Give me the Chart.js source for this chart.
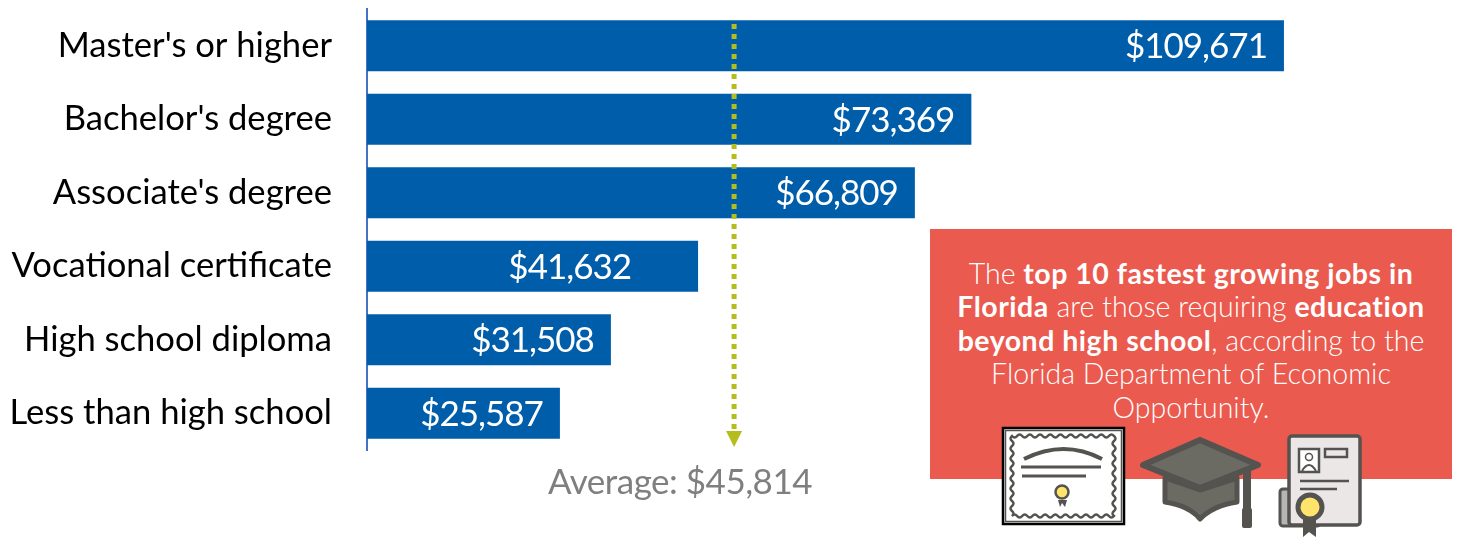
<!DOCTYPE html>
<html>
<head>
<meta charset="utf-8">
<script src="https://cdn.jsdelivr.net/npm/chart.js@4"></script>
<style>
  html, body { margin: 0; padding: 0; background: #fff; overflow: hidden; }
  #wrap { position: relative; width: 1459px; height: 537px; font-family: Lato, sans-serif; }
  #myChart { position: absolute; left: 0; top: 0; }
  #callout { position: absolute; left: 930px; top: 229px; width: 522px; height: 250px; background: #EB5A4E; }
  #calloutText { position: absolute; left: 0; top: 28px; width: 100%; text-align: center; color: #fff; font-size: 28.5px; line-height: 33.4px; font-weight: 300; }
  #calloutText b { font-weight: 700; letter-spacing: 0.5px; }
  #average { position: absolute; left: 480px; top: 458px; width: 400px; text-align: center; color: #7F7F7F; font-size: 35px; line-height: 44px; letter-spacing: -0.5px; }
  #icons { position: absolute; left: 0; top: 0; }
</style>
</head>
<body>
<div id="wrap">
  <canvas id="myChart" width="1459" height="537"></canvas>
  <div id="callout">
    <div id="calloutText">The <b>top 10 fastest growing jobs in<br>Florida</b> are those requiring <b>education<br>beyond high school</b>, according to the<br>Florida Department of Economic<br>Opportunity.</div>
  </div>
  <div id="average">Average: $45,814</div>
  <svg id="icons" width="1459" height="537" viewBox="0 0 1459 537">
    <!-- certificado -->
    <rect x="1003" y="428" width="121" height="96" fill="#fff" stroke="#000" stroke-width="2.5"/>
    <rect x="1005.5" y="430.5" width="116" height="91" fill="none" stroke="#55534F" stroke-width="1.5"/>
    <path id="borde" fill="none" stroke="#55534F" stroke-width="2.5"/>
    <path d="M1024 459 Q1064 439 1102 459" fill="none" stroke="#55534F" stroke-width="4"/>
    <path d="M1021 467 H1101" stroke="#55534F" stroke-width="3"/>
    <path d="M1022 476 H1086" stroke="#55534F" stroke-width="3"/>
    <path d="M1058 500 L1060 507 L1062 503 L1065 507 L1067 500 Z" fill="#55534F"/>
    <circle cx="1062" cy="492" r="6.5" fill="#FFE36B" stroke="#55534F" stroke-width="2.5"/>
    <!-- birrete -->
    <path d="M1165 478 V502 Q1190 506 1200 519 Q1212 506 1237 502 V478 L1200 490 Z" fill="#6B6B63" stroke="#55534F" stroke-width="5" stroke-linejoin="round"/>
    <path d="M1200 440 L1258 465 L1200 488 L1143 465 Z" fill="#6B6B63" stroke="#55534F" stroke-width="6" stroke-linejoin="round"/>
    <path d="M1247 468 V512" stroke="#55534F" stroke-width="8"/>
    <rect x="1242" y="508" width="10" height="20" rx="2" fill="#55534F"/>
    <!-- diploma -->
    <rect x="1280" y="489" width="40" height="37" rx="3" fill="#B5B5B5" stroke="#55534F" stroke-width="3"/>
    <rect x="1289" y="436" width="71" height="89" rx="3" fill="#EAE7E6" stroke="#55534F" stroke-width="3.5"/>
    <rect x="1299" y="449" width="20" height="23" fill="#fff" stroke="#55534F" stroke-width="2.5"/>
    <circle cx="1309" cy="457" r="3.5" fill="none" stroke="#55534F" stroke-width="1.5"/>
    <path d="M1302 471 Q1309 459 1316 471" fill="none" stroke="#55534F" stroke-width="2"/>
    <rect x="1325" y="449" width="22" height="8" fill="none" stroke="#55534F" stroke-width="2.5"/>
    <path d="M1300 481 H1349" stroke="#55534F" stroke-width="2.5"/>
    <path d="M1300 489 H1337" stroke="#55534F" stroke-width="2.5"/>
    <path d="M1303 515 V537 L1309 532 L1316 537 V515 Z" fill="#55534F"/>
    <circle cx="1310" cy="507" r="12" fill="#FFE36B" stroke="#55534F" stroke-width="5"/>
  </svg>
</div>

<script>
const categorias = ["Master's or higher", "Bachelor's degree", "Associate's degree", 'Vocational certificate', 'High school diploma', 'Less than high school']
const salarios = [109671, 73369, 66809, 41632, 31508, 25587]
const promedio = 45814

const idMyChart = document.getElementById('myChart')

// Borde ondulado del certificado
function bordeOndulado (x0, y0, x1, y1, paso, alto) {
  let d = `M${x0} ${y0}`
  const lado = (xa, ya, xb, yb) => {
    const n = Math.round(Math.hypot(xb - xa, yb - ya) / paso)
    const nx = (yb - ya) === 0 ? 0 : alto
    const ny = (yb - ya) === 0 ? alto : 0
    for (let i = 1; i <= n; i++) {
      const s = i % 2 ? 1 : -1
      const mx = xa + (xb - xa) * (i - 0.5) / n + nx * s
      const my = ya + (yb - ya) * (i - 0.5) / n + ny * s
      d += ` Q${mx} ${my} ${xa + (xb - xa) * i / n} ${ya + (yb - ya) * i / n}`
    }
  }
  lado(x0, y0, x1, y0)
  lado(x1, y0, x1, y1)
  lado(x1, y1, x0, y1)
  lado(x0, y1, x0, y0)
  return d + 'Z'
}
document.getElementById('borde').setAttribute('d', bordeOndulado(1012, 436, 1114, 516, 5, 3))

// Etiquetas de dinero dentro de cada barra
const etiquetasPlugin = {
  id: 'etiquetas',
  afterDatasetsDraw (chart) {
    const ctx = chart.ctx
    const meta = chart.getDatasetMeta(0)
    ctx.save()
    ctx.fillStyle = '#fff'
    ctx.font = '35px Lato, sans-serif'
    ctx.letterSpacing = '-1px'
    ctx.textAlign = 'right'
    ctx.textBaseline = 'middle'
    meta.data.forEach((bar, i) => {
      // la de Vocational va corrida a la izquierda en el original
      const margen = i === 3 ? 67 : 17
      ctx.fillText('$' + salarios[i].toLocaleString('en-US'), bar.x - margen, bar.y + 1)
    })
    ctx.restore()
  }
}

// Flecha punteada del promedio
const promedioPlugin = {
  id: 'promedio',
  afterDatasetsDraw (chart) {
    const ctx = chart.ctx
    const x = chart.scales.x.getPixelForValue(promedio)
    ctx.save()
    ctx.strokeStyle = '#B5BD1C'
    ctx.fillStyle = '#B5BD1C'
    ctx.lineWidth = 5
    ctx.setLineDash([5, 5])
    ctx.beginPath()
    ctx.moveTo(x, 24)
    ctx.lineTo(x, 431)
    ctx.stroke()
    ctx.beginPath()
    ctx.moveTo(x - 8, 431)
    ctx.lineTo(x + 8, 431)
    ctx.lineTo(x, 447)
    ctx.closePath()
    ctx.fill()
    ctx.restore()
  }
}

new Chart(idMyChart, {
  type: 'bar',
  data: {
    labels: categorias,
    datasets: [{
      data: salarios,
      backgroundColor: '#005DAA',
      barPercentage: 0.695,
      categoryPercentage: 1
    }]
  },
  options: {
    indexAxis: 'y',
    responsive: false,
    animation: false,
    layout: { padding: { top: 9, bottom: 87, left: 0, right: 0 } },
    plugins: { legend: { display: false }, tooltip: { enabled: false } },
    scales: {
      x: { display: false, min: 3183, max: 130000 },
      y: {
        // el padding de los ticks no debe comerse el alto del grafico
        afterFit (scale) {
          scale.width = 367
          scale.paddingTop = 0
          scale.paddingBottom = 0
        },
        grid: { display: false, drawTicks: false },
        border: { color: '#4472C4', width: 2 },
        ticks: { color: '#000', padding: 35, font: { family: 'Lato, sans-serif', size: 34.6 } }
      }
    }
  },
  plugins: [etiquetasPlugin, promedioPlugin]
})
</script>
</body>
</html>
